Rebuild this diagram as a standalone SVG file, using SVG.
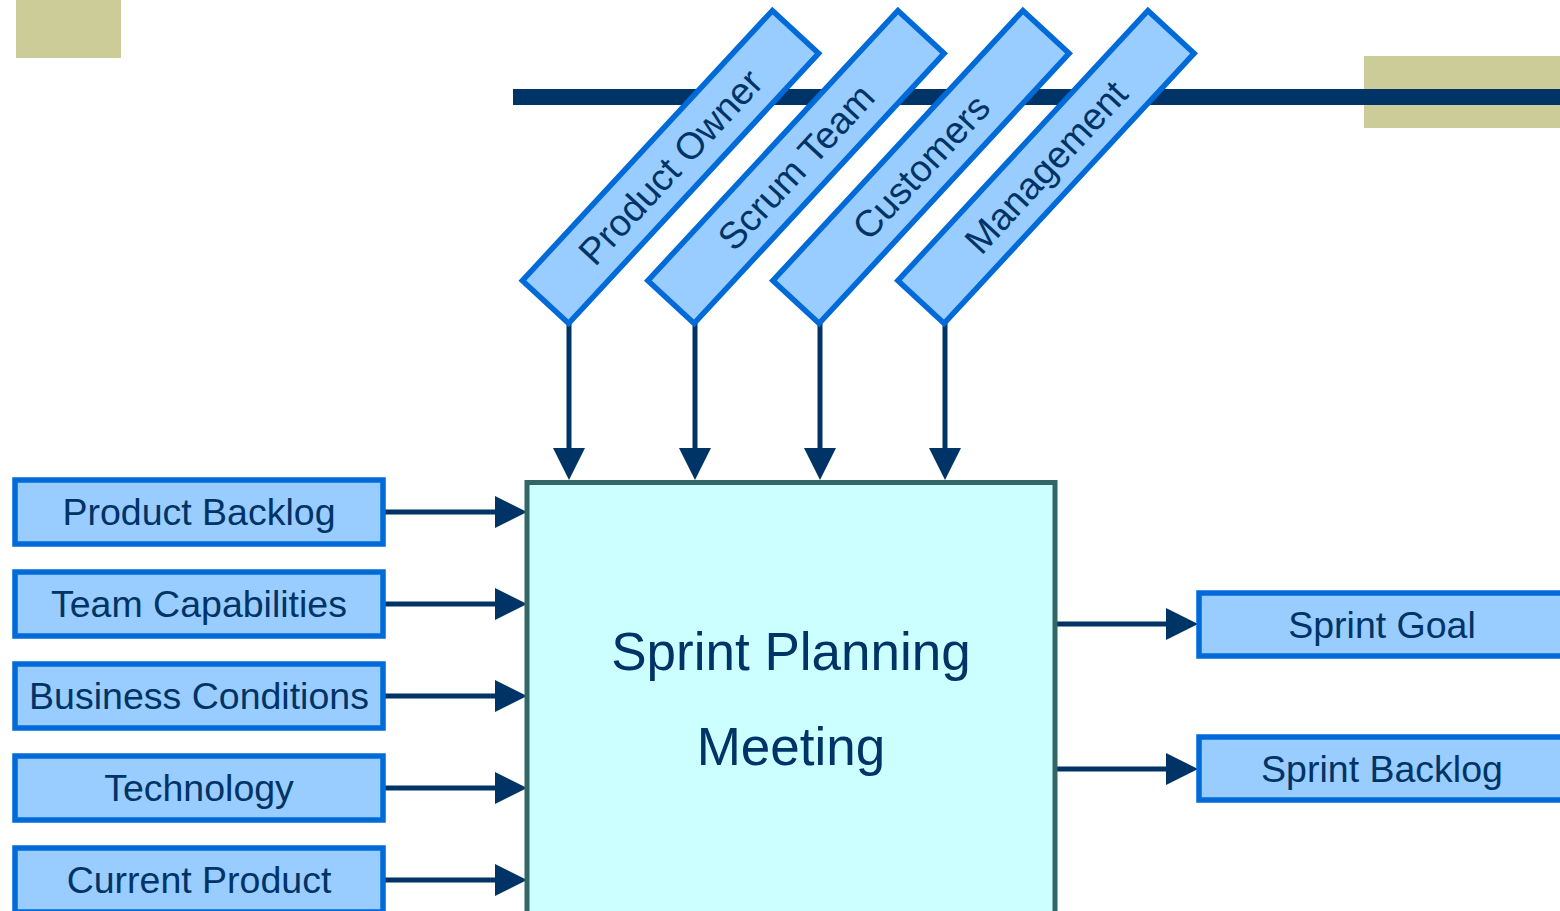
<svg xmlns="http://www.w3.org/2000/svg" width="1560" height="911" viewBox="0 0 1560 911">
<style>
.box{fill:#99ccff;stroke:#006ad8;stroke-width:5.5}
.lbl{font-family:"Liberation Sans",Arial,sans-serif;font-size:37.5px;fill:#003366;text-anchor:middle}
.big{font-family:"Liberation Sans",Arial,sans-serif;font-size:53px;fill:#003366;text-anchor:middle}
.conn{stroke:#003366;stroke-width:5;fill:none;marker-end:url(#ah)}
.tan{fill:#cccc99}
</style>
<defs>
<marker id="ah" markerUnits="userSpaceOnUse" markerWidth="32" markerHeight="32" refX="0" refY="16" orient="auto" viewBox="0 0 32 32">
<path d="M0,0 L32,16 L0,32 z" fill="#003366"/>
</marker>
</defs>
<rect width="1560" height="911" fill="#ffffff"/>
<g id="decor">
<rect class="tan" x="16" y="0" width="105" height="58"/>
<rect class="tan" x="1364" y="56" width="196" height="72"/>
<rect x="513" y="89" width="1047" height="16" fill="#003366"/>
</g>
<g id="connectors">
<line class="conn" x1="569" y1="323" x2="569" y2="448"/>
<line class="conn" x1="695" y1="323" x2="695" y2="448"/>
<line class="conn" x1="820" y1="323" x2="820" y2="448"/>
<line class="conn" x1="945" y1="323" x2="945" y2="448"/>
<line class="conn" x1="384" y1="512" x2="495" y2="512"/>
<line class="conn" x1="384" y1="604" x2="495" y2="604"/>
<line class="conn" x1="384" y1="696" x2="495" y2="696"/>
<line class="conn" x1="384" y1="788" x2="495" y2="788"/>
<line class="conn" x1="384" y1="880" x2="495" y2="880"/>
<line class="conn" x1="1057" y1="624" x2="1166" y2="624"/>
<line class="conn" x1="1057" y1="769" x2="1166" y2="769"/>
</g>
<g id="product-owner" transform="translate(670.5,167) rotate(-47.2)">
<rect class="box" x="-184" y="-31.5" width="368" height="63"/>
<text class="lbl" x="0" y="13">Product Owner</text>
</g>
<g id="scrum-team" transform="translate(796,167) rotate(-47.2)">
<rect class="box" x="-184" y="-31.5" width="368" height="63"/>
<text class="lbl" x="0" y="13">Scrum Team</text>
</g>
<g id="customers" transform="translate(921,167) rotate(-47.2)">
<rect class="box" x="-184" y="-31.5" width="368" height="63"/>
<text class="lbl" x="0" y="13">Customers</text>
</g>
<g id="management" transform="translate(1046,167) rotate(-47.2)">
<rect class="box" x="-184" y="-31.5" width="368" height="63"/>
<text class="lbl" x="0" y="13">Management</text>
</g>
<g id="product-backlog">
<rect class="box" x="15" y="480" width="368" height="64"/>
<text class="lbl" x="199" y="525">Product Backlog</text>
</g>
<g id="team-capabilities">
<rect class="box" x="15" y="572" width="368" height="64"/>
<text class="lbl" x="199" y="617">Team Capabilities</text>
</g>
<g id="business-conditions">
<rect class="box" x="15" y="664" width="368" height="64"/>
<text class="lbl" x="199" y="709">Business Conditions</text>
</g>
<g id="technology">
<rect class="box" x="15" y="756" width="368" height="64"/>
<text class="lbl" x="199" y="801">Technology</text>
</g>
<g id="current-product">
<rect class="box" x="15" y="848" width="368" height="64"/>
<text class="lbl" x="199" y="893">Current Product</text>
</g>
<g id="sprint-planning-meeting">
<rect x="527" y="482.5" width="528" height="432" fill="#ccffff" stroke="#336666" stroke-width="5"/>
<text class="big" x="791" y="670">Sprint Planning</text>
<text class="big" x="791" y="765">Meeting</text>
</g>
<g id="sprint-goal">
<rect class="box" x="1199" y="593" width="367" height="63"/>
<text class="lbl" x="1382" y="638">Sprint Goal</text>
</g>
<g id="sprint-backlog">
<rect class="box" x="1199" y="737" width="367" height="63"/>
<text class="lbl" x="1382" y="782">Sprint Backlog</text>
</g>
</svg>
